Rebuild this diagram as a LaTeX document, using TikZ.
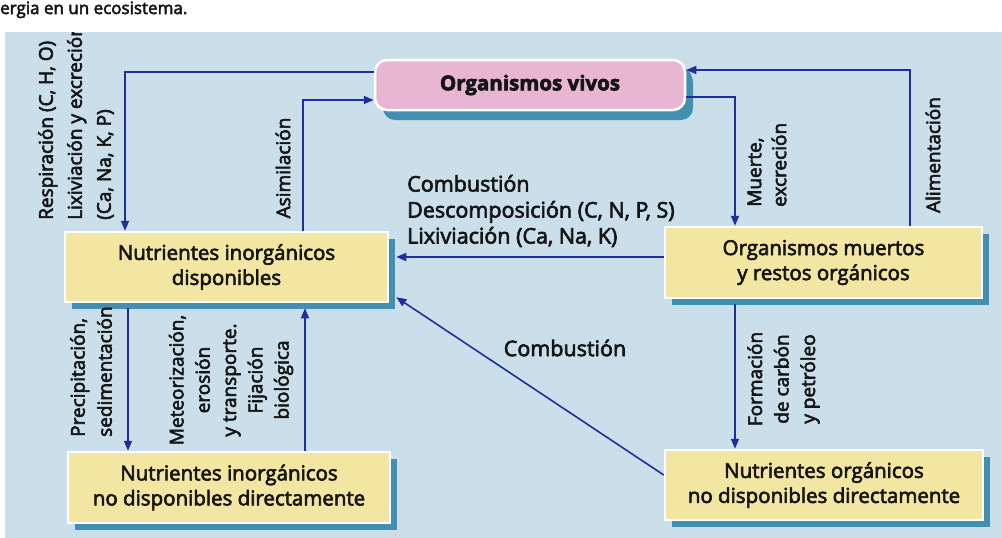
\documentclass[tikz,border=0pt]{standalone}
\usepackage{fontspec}
\setmainfont{Open Sans}
\newfontfamily\heavier{Open Sans}[FakeBold=3]
\usetikzlibrary{arrows.meta,calc,shadows}

\definecolor{panel}{HTML}{CADFE9}
\definecolor{boxfill}{HTML}{F3E6A2}
\definecolor{vivofill}{HTML}{E8B6D2}
\definecolor{shade}{HTML}{428FB2}
\definecolor{flow}{HTML}{1F2E9E}
\definecolor{ink}{HTML}{151515}

\tikzset{
  solidshadow/.style={drop shadow={shadow xshift=7pt,shadow yshift=-7pt,fill=shade,opacity=1}},
  pool/.style={draw=white, line width=2.5pt, fill=boxfill, inner sep=0pt,
    align=center, text=ink, font=\heavier\fontsize{20.5}{25}\selectfont, solidshadow},
  living/.style={pool, fill=vivofill, rounded corners=12pt,
    drop shadow={shadow xshift=8pt,shadow yshift=-10pt,fill=shade,opacity=1}},
  flowline/.style={draw=flow, line width=1.6pt, -{Triangle[length=10pt,width=8pt]}},
  lbl/.style={text=ink, inner sep=0pt, font=\heavier\fontsize{19}{27}\selectfont},
  vlbl/.style={lbl, rotate=90},
  hlbl/.style={lbl, font=\heavier\fontsize{21.5}{26}\selectfont}
}

\begin{document}
\begin{tikzpicture}[x=1pt,y=-1pt]
\useasboundingbox (0,0) rectangle (1002,538);

% caption line above the panel
\node[anchor=base west, inner sep=0pt, text=ink, font=\heavier\fontsize{17}{19}\selectfont] (cap) at (0,14) {ergia en un ecosistema.};

% light blue panel
\fill[panel] (5,32) rectangle (1002,538);

% compartments
\node[living, minimum width=310pt, minimum height=50pt] (vivos) at (530,85) {\bfseries Organismos vivos};
\node[pool, minimum width=323pt, minimum height=70pt] (dispo) at (226.5,267) {Nutrientes inorgánicos\\disponibles};
\node[pool, minimum width=317pt, minimum height=71pt] (muertos) at (823.5,262.5) {Organismos muertos\\y restos orgánicos};
\node[pool, minimum width=322pt, minimum height=71pt] (inorgnd) at (229,487.5) {Nutrientes inorgánicos\\no disponibles directamente};
\node[pool, minimum width=318pt, minimum height=70pt] (orgnd) at (824,485) {Nutrientes orgánicos\\no disponibles directamente};

% exchanges between compartments
\draw[flowline] ([yshift=13pt]vivos.west) -| ([xshift=-101.5pt]dispo.north);
\draw[flowline] ([xshift=76.5pt]dispo.north) |- ([yshift=-15pt]vivos.west);
\draw[flowline] ([yshift=-12pt]vivos.east) -| ([xshift=-88.5pt]muertos.north);
\draw[flowline] ([xshift=86.5pt]muertos.north) |- ([yshift=15pt]vivos.east);
\draw[flowline] ([yshift=5.5pt]muertos.west) -- ([xshift=7pt,yshift=10pt]dispo.east);
\draw[flowline] ([yshift=10pt]orgnd.west) -- ([xshift=7pt,yshift=6pt]dispo.south east);

\coordinate (p1) at ([xshift=-98.5pt,yshift=-5pt]dispo.south);
\draw[flowline] (p1) -- (p1 |- inorgnd.north);
\coordinate (p2) at ([xshift=76pt]inorgnd.north);
\draw[flowline] (p2) -- ($(p2 |- dispo.south)+(0,5)$);
\coordinate (p3) at ([xshift=-88.5pt,yshift=-5pt]muertos.south);
\draw[flowline] (p3) -- (p3 |- orgnd.north);

% process labels
\begin{scope}
  \clip (5,32) rectangle (1002,538);
  \node[vlbl, anchor=west, align=left, font=\heavier\fontsize{19}{29}\selectfont] (resp) at (76,220)
    {Respiración (C, H, O)\\Lixiviación y excreción\\(Ca, Na, K, P)};
\end{scope}
\node[vlbl] (asim) at (283,168) {Asimilación};
\node[vlbl, anchor=west, align=left, font=\heavier\fontsize{19}{25}\selectfont] (muerte) at (767,207) {Muerte,\\excreción};
\node[vlbl] (alim) at (933,155) {Alimentación};
\node[hlbl, anchor=west, align=left] (desc) at (407,211)
  {Combustión\\Descomposición (C, N, P, S)\\Lixiviación (Ca, Na, K)};
\node[hlbl] (comb) at (565,348) {Combustión};
\node[vlbl, anchor=west, align=left, font=\heavier\fontsize{19}{27}\selectfont] (prec) at (91,437) {Precipitación,\\sedimentación};
\node[vlbl, align=center, font=\heavier\fontsize{19}{26.3}\selectfont] (meteo) at (231,380)
  {Meteorización,\\erosión\\y transporte.\\Fijación\\biológica};
\node[vlbl, align=center, font=\heavier\fontsize{19}{26.5}\selectfont] (form) at (783.5,379)
  {Formación\\de carbón\\y petróleo};
\end{tikzpicture}
\end{document}
